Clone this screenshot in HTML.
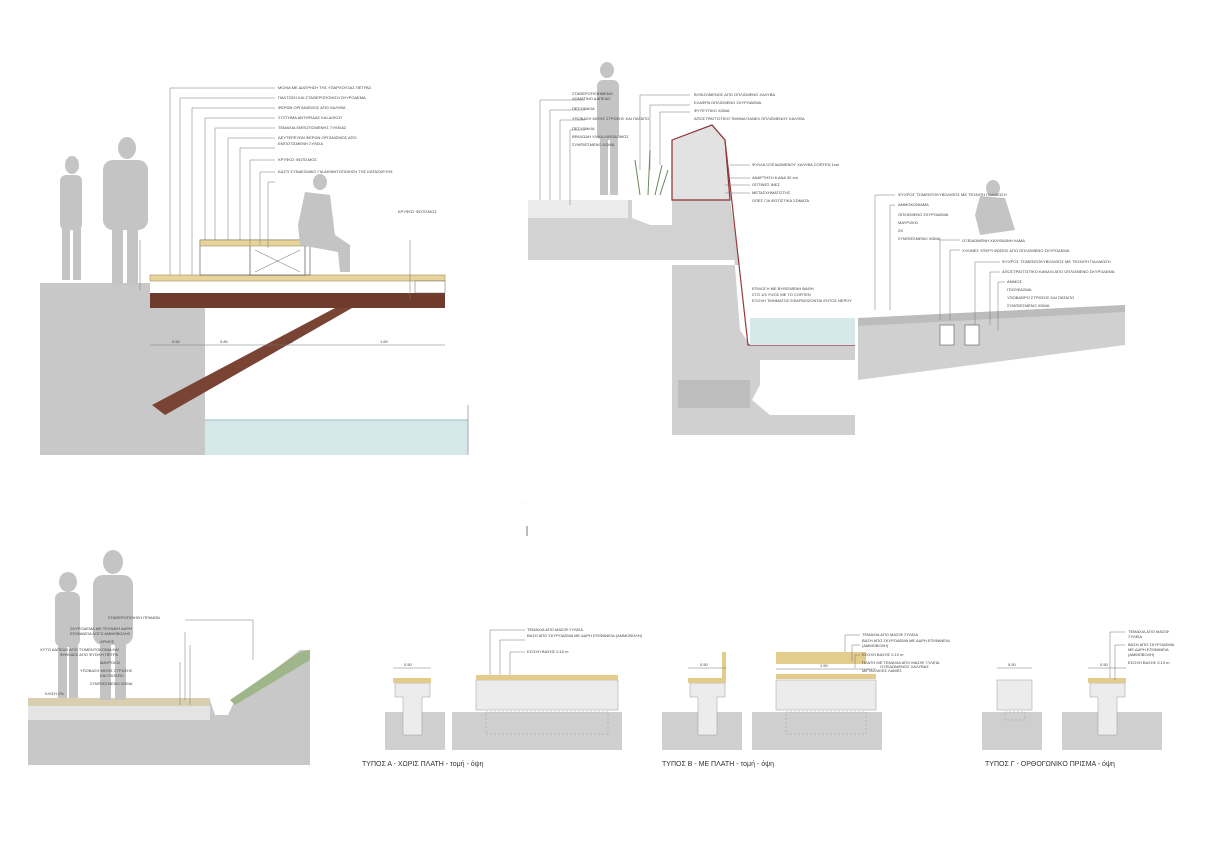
<!DOCTYPE html>
<html><head><meta charset="utf-8"><style>
html,body{margin:0;padding:0;background:#fff;}
svg{display:block;font-family:"Liberation Sans","DejaVu Sans",sans-serif;}
.t{font-size:4px;fill:#444}
.c{font-size:7px;fill:#333}
.l{stroke:#777;stroke-width:0.5;fill:none}
</style></head><body>
<svg width="1209" height="842" viewBox="0 0 1209 842" xmlns="http://www.w3.org/2000/svg">
<rect width="1209" height="842" fill="#fff"/>

<!-- ========== TOP LEFT ========== -->
<polygon points="40,283 150,283 150,308 205,308 205,455 40,455" fill="#c8c8c8"/>
<rect x="205" y="420" width="263" height="35" fill="#d6e8ea"/>
<line x1="205" y1="420" x2="468" y2="420" stroke="#9bbcc0" stroke-width="1"/>
<line x1="468" y1="405" x2="468" y2="455" stroke="#888" stroke-width="0.7"/>
<rect x="150" y="293" width="295" height="15" fill="#6e3b2c"/>
<polygon points="152,405 335,308 352,308 165,415" fill="#7a4434"/>
<rect x="150" y="275" width="295" height="6" fill="#e8d49a" stroke="#8a7a50" stroke-width="0.5"/>
<rect x="200" y="240" width="110" height="35" fill="none" stroke="#666" stroke-width="0.7"/>
<rect x="250" y="245" width="55" height="30" fill="#fff" stroke="#555" stroke-width="0.7"/>
<line x1="255" y1="250" x2="300" y2="272" stroke="#666" stroke-width="0.5"/>
<line x1="300" y1="250" x2="255" y2="272" stroke="#666" stroke-width="0.5"/>
<rect x="200" y="240" width="110" height="6" fill="#e8d49a" stroke="#8a7a50" stroke-width="0.5"/>
<rect x="415" y="281" width="30" height="12" fill="#fff" stroke="#666" stroke-width="0.5"/>
<!-- people -->
<g fill="#c4c4c4">
<ellipse cx="72" cy="165" rx="7" ry="9"/><rect x="60" y="175" width="22" height="55" rx="6"/><rect x="62" y="225" width="8" height="55"/><rect x="73" y="225" width="8" height="55"/>
<ellipse cx="127" cy="148" rx="9" ry="11"/><rect x="103" y="160" width="45" height="70" rx="10"/><rect x="112" y="225" width="11" height="60"/><rect x="127" y="225" width="11" height="60"/>
<ellipse cx="320" cy="182" rx="7" ry="8"/><polygon points="305,192 330,195 335,235 350,245 350,272 340,272 338,252 300,245 298,225"/>
</g>
<!-- dims -->
<line x1="150" y1="345" x2="445" y2="345" class="l"/>
<text class="t" x="172" y="343">0.60</text><text class="t" x="220" y="343">0.80</text><text class="t" x="285" y="343">1.20</text><text class="t" x="380" y="343">1.60</text>
<line x1="140" y1="240" x2="140" y2="290" class="l"/><line x1="410" y1="240" x2="410" y2="300" class="l"/>
<text class="t" x="398" y="213">ΚΡΥΦΟΣ ΦΩΤΙΣΜΟΣ</text>
<!-- leaders -->
<g class="l">
<polyline points="170,275 170,88 275,88"/><polyline points="180,275 180,98 275,98"/><polyline points="192,275 192,108 275,108"/>
<polyline points="205,240 205,118 275,118"/><polyline points="215,240 215,128 275,128"/><polyline points="228,240 228,138 275,138"/>
<polyline points="240,240 240,148 275,148"/><polyline points="250,245 250,160 275,160"/><polyline points="260,245 260,172 275,172"/><polyline points="268,248 268,182 275,182"/>
</g>
<g class="t">
<text x="278" y="89">ΜΟΛΙΑ ΜΕ ΔΙΑΤΡΗΣΗ ΤΗΣ ΥΠΑΡΧΟΥΣΑΣ ΠΕΤΡΑΣ</text>
<text x="278" y="99">ΠΑΚΤΩΣΗ ΚΑΙ ΣΤΑΘΕΡΟΠΟΙΗΣΗ ΣΚΥΡΟΔΕΜΑ</text>
<text x="278" y="109">ΦΕΡΩΝ ΟΡΓΑΝΙΣΜΟΣ ΑΠΟ ΧΑΛΥΒΑ</text>
<text x="278" y="119">ΣΥΣΤΗΜΑ ΑΝΤΗΡΙΔΑΣ ΚΑΙ ΔΟΚΟΥ</text>
<text x="278" y="129">ΤΕΜΑΧΙΑ ΕΜΠΟΤΙΣΜΕΝΗΣ ΞΥΛΕΙΑΣ</text>
<text x="278" y="139">ΔΕΥΤΕΡΕΥΩΝ ΦΕΡΩΝ ΟΡΓΑΝΙΣΜΟΣ ΑΠΟ</text>
<text x="278" y="145">ΕΜΠΟΤΙΣΜΕΝΗ ΞΥΛΕΙΑ</text>
<text x="278" y="161">ΚΡΥΦΟΣ ΦΩΤΙΣΜΟΣ</text>
<text x="278" y="173">ΚΑΣΤΙ ΣΥΝΔΕΣΜΙΚΟ ΓΙΑ ΑΚΙΝΗΤΟΠΟΙΗΣΗ ΤΗΣ ΚΑΤΑΣΚΕΥΗΣ</text>
</g>

<!-- ========== TOP MIDDLE ========== -->
<polygon points="528,200 632,200 632,218 650,225 672,225 672,200 730,200 738,260 528,260" fill="#d2d2d2"/>
<rect x="528" y="200" width="100" height="18" fill="#ececec"/>
<polygon points="672,140 712,125 725,140 740,330 750,345 855,345 855,360 760,360 760,385 752,400 770,415 855,415 855,435 672,435 672,265 740,265 730,200 672,200" fill="#d0d0d0"/>
<polygon points="672,140 712,125 725,140 730,200 672,200" fill="#e2e2e2" stroke="#8a3030" stroke-width="1.2"/>
<polyline points="712,125 725,140 748,345 855,345" fill="none" stroke="#9a3a3a" stroke-width="1.2"/>
<rect x="750" y="318" width="105" height="27" fill="#d6e8ea"/>
<rect x="678" y="380" width="72" height="28" fill="#bdbdbd"/>
<polygon points="858,318 1125,305 1125,345 858,380" fill="#d0d0d0"/>
<polygon points="858,318 1125,305 1125,312 858,326" fill="#bcbcbc"/>
<rect x="940" y="325" width="14" height="20" fill="#fff" stroke="#555" stroke-width="0.6"/>
<rect x="965" y="325" width="14" height="20" fill="#fff" stroke="#555" stroke-width="0.6"/>
<!-- people -->
<g fill="#c4c4c4">
<ellipse cx="607" cy="70" rx="7" ry="8"/><rect x="597" y="80" width="22" height="60" rx="6"/><rect x="600" y="135" width="8" height="60"/><rect x="610" y="135" width="8" height="60"/>
<ellipse cx="993" cy="188" rx="7" ry="8"/><polygon points="980,196 1005,198 1015,230 980,235 975,215"/>
</g>
<g stroke="#6a8a5a" stroke-width="1"><line x1="640" y1="195" x2="635" y2="160"/><line x1="648" y1="195" x2="650" y2="150"/><line x1="655" y1="195" x2="662" y2="165"/><line x1="660" y1="195" x2="668" y2="170"/></g>
<g class="l">
<polyline points="540,200 540,100 585,100"/><polyline points="550,200 550,110 585,110"/><polyline points="560,200 560,120 585,120"/><polyline points="570,205 570,130 585,130"/>
<polyline points="640,170 640,95 690,95"/><polyline points="650,170 650,105 690,105"/><polyline points="660,165 660,112 690,112"/>
<polyline points="730,165 750,165"/><polyline points="730,178 750,178"/><polyline points="725,185 750,185"/><polyline points="725,193 750,193"/>
<polyline points="875,310 875,195 895,195"/><polyline points="890,310 890,205 895,205"/><polyline points="940,320 940,240 960,240"/><polyline points="950,320 950,250 960,250"/>
<polyline points="975,325 975,262 1000,262"/><polyline points="990,325 990,272 1000,272"/><polyline points="998,330 998,282 1005,282"/>
</g>
<g class="t">
<text x="572" y="95">ΣΤΑΘΕΡΟΠΟΙΗΜΕΝΟ</text><text x="572" y="100">ΧΩΜΑΤΙΝΟ ΔΑΠΕΔΟ</text>
<text x="572" y="110">ΠΕΣΥΦΑΚΙΑ</text><text x="572" y="120">ΥΠΟΒΑΣΗ ΜΙΞΗΣ ΣΤΡΩΣΗΣ ΚΑΙ ΠΑΤΑΠΟ</text>
<text x="572" y="130">ΠΕΣΥΦΑΚΙΑ</text><text x="572" y="138">ΒΡΑΧΩΔΗ ΥΛΙΚΑ ΛΙΘΟΔΟΜΟΣ</text><text x="572" y="146">ΣΥΜΠΙΕΣΜΕΝΟ ΧΩΜΑ</text>
<text x="694" y="96">ΒΥΘΙΖΟΜΕΝΟΣ ΑΠΟ ΟΠΛΙΣΜΕΝΟ ΧΑΛΥΒΑ</text><text x="694" y="104">ΕΛΑΦΡΑ ΟΠΛΙΣΜΕΝΟ ΣΚΥΡΟΔΕΜΑ</text>
<text x="694" y="112">ΦΥΤΕΥΤΙΚΟ ΧΩΜΑ</text><text x="694" y="120">ΑΠΟΣΤΡΑΓΓΙΣΤΙΚΟ ΤΜΗΜΑ ΠΑΝΕΛ ΟΠΛΙΣΜΕΝΟΥ ΧΑΛΥΒΑ</text>
<text x="752" y="166">ΦΥΛΛΑ ΟΞΕΙΔΩΜΕΝΟΥ ΧΑΛΥΒΑ CORTEN 1cm</text><text x="752" y="179">ΑΝΑΡΤΗΣΗ 6 ΑΝΑ 30 cm</text>
<text x="752" y="186">ΟΠΤΙΝΕΣ ΙΝΕΣ</text><text x="752" y="194">ΜΕΤΑΣΧΗΜΑΤΙΣΤΗΣ</text><text x="752" y="202">ΟΠΕΣ ΓΙΑ ΦΩΤΙΣΤΙΚΑ ΣΩΜΑΤΑ</text>
<text x="752" y="290">ΕΠΙΛΟΓΗ ΜΕ ΒΥΘΙΣΜΕΝΗ ΒΑΘΗ</text><text x="752" y="296">ΣΤΟ 1/3 ΥΨΟΣ ΜΕ ΤΟ CORTEN</text><text x="752" y="302">ΕΞΟΧΗ ΤΜΗΜΑΤΟΣ ΕΦΑΡΜΟΖΟΝΤΑΙ ΕΝΤΟΣ ΝΕΡΟΥ</text>
<text x="898" y="196">ΨΥΧΡΟΣ ΤΣΙΜΕΝΤΟΚΥΒΟΛΙΘΟΣ ΜΕ ΤΕΧΝΙΤΗ ΠΑΛΑΙΩΣΗ</text><text x="898" y="206">ΑΜΜΟΚΟΝΙΑΜΑ</text>
<text x="898" y="216">ΟΠΛΙΣΜΕΝΟ ΣΚΥΡΟΔΕΜΑ</text><text x="898" y="224">ΜΑΥΡΟΚΩ</text><text x="898" y="232">ΣΚ</text><text x="898" y="240">ΣΥΜΠΙΕΣΜΕΝΟ ΧΩΜΑ</text>
<text x="962" y="242">ΟΞΕΙΔΩΜΕΝΗ ΧΑΛΥΒΔΙΝΗ ΛΑΜΑ</text><text x="962" y="252">ΧΥΛΙΝΕΣ ΥΠΕΡΥΨΩΣΕΙΣ ΑΠΟ ΟΠΛΙΣΜΕΝΟ ΣΚΥΡΟΔΕΜΑ</text>
<text x="1002" y="263">ΨΥΧΡΟΣ ΤΣΙΜΕΝΤΟΚΥΒΟΛΙΘΟΣ ΜΕ ΤΕΧΝΙΤΗ ΠΑΛΑΙΩΣΗ</text><text x="1002" y="273">ΑΠΟΣΤΡΑΓΓΙΣΤΙΚΟ ΚΑΝΑΛΙ ΑΠΟ ΟΠΛΙΣΜΕΝΟ ΣΚΥΡΟΔΕΜΑ</text>
<text x="1007" y="283">ΑΜΜΟΣ</text><text x="1007" y="291">ΓΕΩΥΦΑΣΜΑ</text><text x="1007" y="299">ΥΠΟΒΑΘΡΟ ΣΤΡΩΣΗΣ ΚΑΙ ΠΑΤΑΠΟ</text><text x="1007" y="307">ΣΥΜΠΙΕΣΜΕΝΟ ΧΩΜΑ</text>
</g>
<text x="525" y="504" class="t">.</text>
<line x1="527" y1="526" x2="527" y2="536" stroke="#555" stroke-width="0.8"/>

<!-- ========== BOTTOM LEFT ========== -->
<polygon points="28,700 210,700 215,715 228,715 235,700 300,650 310,650 310,765 28,765" fill="#c8c8c8"/>
<rect x="28" y="698" width="182" height="8" fill="#d9cfae"/>
<rect x="28" y="706" width="182" height="14" fill="#e4e4e4"/>
<polygon points="230,700 300,652 310,650 310,660 235,705" fill="#9fb58a"/>
<g fill="#c4c4c4">
<ellipse cx="68" cy="582" rx="9" ry="10"/><rect x="55" y="592" width="25" height="55" rx="7"/><rect x="58" y="640" width="9" height="58"/><rect x="69" y="640" width="9" height="58"/>
<ellipse cx="113" cy="562" rx="10" ry="12"/><rect x="93" y="575" width="40" height="70" rx="10"/><rect x="100" y="640" width="11" height="60"/><rect x="115" y="640" width="11" height="60"/>
</g>
<g class="l"><polyline points="253,660 253,620 185,620"/><polyline points="185,700 185,632"/><polyline points="190,705 190,645"/><polyline points="180,705 180,662"/></g>
<g class="t">
<text x="108" y="619">ΣΤΑΘΕΡΟΠΟΙΗΣΗ ΠΡΑΝΩΝ</text>
<text x="70" y="630">ΣΚΥΡΟΔΕΜΑ ΜΕ ΤΕΧΝΙΚΗ ΑΔΡΗ</text><text x="70" y="635">ΕΠΙΦΑΝΕΙΑ ΛΟΓΩ ΑΜΜΟΒΟΛΗΣ</text>
<text x="100" y="643">ΑΡΜΟΣ</text><text x="40" y="651">ΧΥΤΟ ΔΑΠΕΔΟ ΑΠΟ ΤΣΙΜΕΝΤΟΚΟΝΙΑ ΚΑΙ</text><text x="60" y="656">ΨΗΦΙΔΕΣ ΑΠΟ ΦΥΣΙΚΗ ΠΕΤΡΑ</text>
<text x="100" y="664">ΜΑΥΡΟΚΩ</text><text x="80" y="672">ΥΠΟΒΑΣΗ ΜΙΞΗΣ ΣΤΡΩΣΗΣ</text><text x="100" y="677">ΚΑΙ ΠΑΤΑΠΟ</text><text x="90" y="685">ΣΥΜΠΙΕΣΜΕΝΟ ΧΩΜΑ</text>
<text x="45" y="695">ΚΛΙΣΗ 2%</text>
</g>

<!-- ========== BENCHES ========== -->
<g fill="#cfcfcf">
<rect x="385" y="712" width="60" height="38"/><rect x="452" y="712" width="170" height="38"/>
<rect x="662" y="712" width="80" height="38"/><rect x="752" y="712" width="130" height="38"/>
<rect x="982" y="712" width="60" height="38"/><rect x="1062" y="712" width="100" height="38"/>
</g>
<g fill="#ececec" stroke="#999" stroke-width="0.5">
<polygon points="395,683 430,683 430,697 422,697 422,735 403,735 403,697 395,697"/>
<rect x="476" y="680" width="142" height="30"/>
<polygon points="690,683 725,683 725,697 717,697 717,735 698,735 698,697 690,697"/>
<rect x="776" y="680" width="100" height="30"/>
<rect x="997" y="680" width="35" height="30"/>
<polygon points="1090,683 1125,683 1125,697 1117,697 1117,735 1098,735 1098,697 1090,697"/>
</g>
<g fill="#e4cd8c">
<rect x="393" y="678" width="38" height="5"/><rect x="476" y="675" width="142" height="5"/>
<rect x="688" y="678" width="38" height="5"/><rect x="722" y="652" width="4" height="30"/>
<rect x="776" y="674" width="100" height="5"/><rect x="776" y="652" width="90" height="12"/>
<rect x="1088" y="678" width="38" height="5"/>
</g>
<g stroke="#999" stroke-width="0.5" stroke-dasharray="2,2" fill="none">
<rect x="486" y="712" width="122" height="22"/><rect x="786" y="712" width="80" height="22"/><rect x="1005" y="712" width="20" height="8"/>
</g>
<g class="l">
<polyline points="490,675 490,630 525,630"/><polyline points="500,675 500,640 525,640"/><polyline points="510,675 510,652 525,652"/>
<polyline points="845,652 845,635 860,635"/><polyline points="852,662 852,645 860,645"/><polyline points="855,668 855,655 860,655"/>
<polyline points="1110,678 1110,632 1125,632"/><polyline points="1115,680 1115,645 1125,645"/>
<line x1="393" y1="668" x2="431" y2="668"/><line x1="688" y1="668" x2="726" y2="668"/><line x1="997" y1="668" x2="1032" y2="668"/><line x1="1088" y1="668" x2="1126" y2="668"/><line x1="776" y1="669" x2="876" y2="669"/>
</g>
<g class="t">
<text x="527" y="631">ΤΕΜΑΧΙΑ ΑΠΟ ΜΑΣΙΦ ΞΥΛΕΙΑ</text><text x="527" y="637">ΒΑΣΗ ΑΠΟ ΣΚΥΡΟΔΕΜΑ ΜΕ ΑΔΡΗ ΕΠΙΦΑΝΕΙΑ (ΑΜΜΟΒΟΛΗ)</text>
<text x="527" y="653">ΕΣΟΧΗ ΒΑΣΗΣ 0.10 m</text>
<text x="862" y="636">ΤΕΜΑΧΙΑ ΑΠΟ ΜΑΣΙΦ ΞΥΛΕΙΑ</text><text x="862" y="642">ΒΑΣΗ ΑΠΟ ΣΚΥΡΟΔΕΜΑ ΜΕ ΑΔΡΗ ΕΠΙΦΑΝΕΙΑ</text><text x="862" y="647">(ΑΜΜΟΒΟΛΗ)</text>
<text x="862" y="656">ΕΣΟΧΗ ΒΑΣΗΣ 0.10 m</text><text x="862" y="664">ΠΛΑΤΗ ΜΕ ΤΕΜΑΧΙΑ ΑΠΟ ΜΑΣΙΦ ΞΥΛΕΙΑ</text><text x="862" y="672">ΜΕΤΑΛΛΙΚΕΣ ΛΑΜΕΣ</text>
<text x="880" y="668">ΟΞΕΙΔΩΜΕΝΟΣ ΧΑΛΥΒΑΣ</text>
<text x="1128" y="633">ΤΕΜΑΧΙΑ ΑΠΟ ΜΑΣΙΦ</text><text x="1128" y="638">ΞΥΛΕΙΑ</text>
<text x="1128" y="646">ΒΑΣΗ ΑΠΟ ΣΚΥΡΟΔΕΜΑ</text><text x="1128" y="651">ΜΕ ΑΔΡΗ ΕΠΙΦΑΝΕΙΑ</text><text x="1128" y="656">(ΑΜΜΟΒΟΛΗ)</text><text x="1128" y="664">ΕΣΟΧΗ ΒΑΣΗΣ 0.10 m</text>
<text x="404" y="666">0.50</text><text x="700" y="666">0.50</text><text x="1008" y="666">0.50</text><text x="1100" y="666">0.50</text><text x="820" y="667">1.50</text>
</g>
<g class="c">
<text x="362" y="766">ΤΥΠΟΣ Α -  ΧΩΡΙΣ ΠΛΑΤΗ - τομή - όψη</text>
<text x="662" y="766">ΤΥΠΟΣ Β -  ΜΕ ΠΛΑΤΗ - τομή - όψη</text>
<text x="985" y="766">ΤΥΠΟΣ Γ -  ΟΡΘΟΓΩΝΙΚΟ ΠΡΙΣΜΑ - όψη</text>
</g>
</svg>
</body></html>
